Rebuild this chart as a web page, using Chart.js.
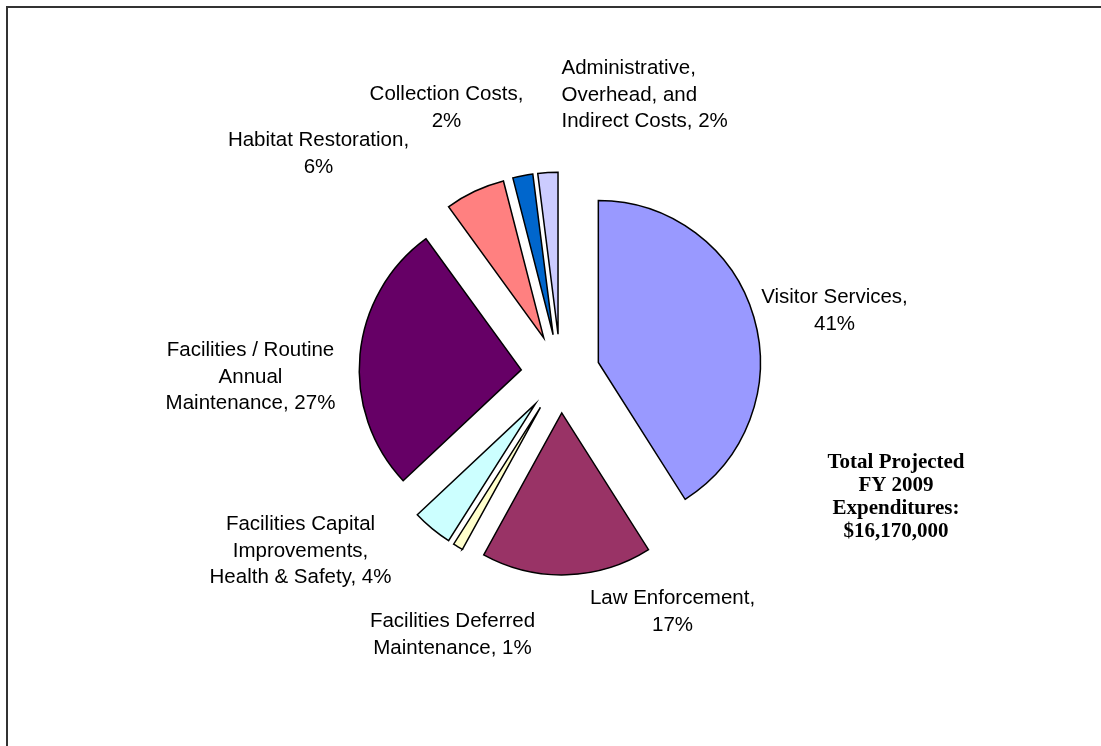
<!DOCTYPE html>
<html>
<head>
<meta charset="utf-8">
<script src="https://cdn.jsdelivr.net/npm/chart.js@4"></script>
<style>
    html, body { margin: 0; padding: 0; background: #fff; overflow: hidden; }
    #frame {
        position: absolute; left: 6px; top: 6px;
        width: 1200px; height: 900px;
        border: 2px solid #333;
    }
    #expenseChart { position: absolute; left: 0; top: 0; }
</style>
</head>
<body>
<div id="frame"></div>
<canvas id="expenseChart" width="1101" height="746"></canvas>
<script>
// Dữ liệu biểu đồ (phần trăm chi tiêu)
const categories = [
    'Visitor Services',
    'Law Enforcement',
    'Facilities Deferred\nMaintenance',
    'Facilities Capital\nImprovements,\nHealth & Safety',
    'Facilities / Routine\nAnnual\nMaintenance',
    'Habitat Restoration',
    'Collection Costs',
    'Administrative,\nOverhead, and\nIndirect Costs'
];
const percentValues = [41, 17, 1, 4, 27, 6, 2, 2];
const valueOnNewLine = [true, true, false, false, false, true, true, false];
const sliceColors = ['#9999FF', '#993366', '#FFFFCC', '#CCFFFF', '#660066', '#FF8080', '#0066CC', '#CCCCFF'];
const totalNote = ['Total Projected', 'FY 2009', 'Expenditures:', '$16,170,000'];

// Vị trí nhãn so với tâm biểu đồ (tâm khối chữ), căn lề
const labelOffsets = [[274, -64], [112, 237], [-108, 260], [-260, 176], [-310, 2], [-242, -221], [-114, -267], [1, -280]];
const labelAlign = ['center', 'center', 'center', 'center', 'center', 'center', 'center', 'left'];
const explodeDist = 39.4;

// Tách các lát bánh ra khỏi tâm
const explodePlugin = {
    id: 'explode',
    afterDatasetUpdate(chart, args) {
        args.meta.data.forEach(arc => {
            const mid = (arc.startAngle + arc.endAngle) / 2;
            arc.x += Math.cos(mid) * explodeDist;
            arc.y += Math.sin(mid) * explodeDist;
        });
    }
};

// Vẽ nhãn dữ liệu và ghi chú tổng
const labelPlugin = {
    id: 'sliceLabels',
    afterDraw(chart) {
        const ctx = chart.ctx;
        const area = chart.chartArea;
        const cx = (area.left + area.right) / 2;
        const cy = (area.top + area.bottom) / 2;
        const lineHeight = 26.5;

        ctx.save();
        ctx.fillStyle = '#000';
        ctx.font = '20.5px "Liberation Sans", Arial, sans-serif';
        ctx.textBaseline = 'alphabetic';
        categories.forEach((name, i) => {
            const text = name + ',' + (valueOnNewLine[i] ? '\n' : ' ') + percentValues[i] + '%';
            const lines = text.split('\n');
            const x = cx + labelOffsets[i][0];
            const y = cy + labelOffsets[i][1];
            ctx.textAlign = labelAlign[i];
            lines.forEach((line, j) => {
                ctx.fillText(line, x, y + 7 + (j - (lines.length - 1) / 2) * lineHeight);
            });
        });

        // Ghi chú tổng chi tiêu
        ctx.font = 'bold 21px "Liberation Serif", "Times New Roman", serif';
        ctx.textAlign = 'center';
        totalNote.forEach((line, j) => {
            ctx.fillText(line, cx + 335.5, cy + 94.5 + j * 22.9);
        });
        ctx.restore();
    }
};

const ctx = document.getElementById('expenseChart').getContext('2d');
const expenseChart = new Chart(ctx, {
    type: 'pie',
    data: {
        labels: categories,
        datasets: [{
            data: percentValues,
            backgroundColor: sliceColors,
            borderColor: '#000',
            borderWidth: 1.5,
            borderJoinStyle: 'miter'
        }]
    },
    options: {
        responsive: false,
        animation: false,
        events: [],
        radius: 162,
        layout: {
            padding: { left: 20, right: 0, top: 1, bottom: 0 }
        },
        plugins: {
            legend: { display: false },
            tooltip: { enabled: false }
        }
    },
    plugins: [explodePlugin, labelPlugin]
});
</script>
</body>
</html>
